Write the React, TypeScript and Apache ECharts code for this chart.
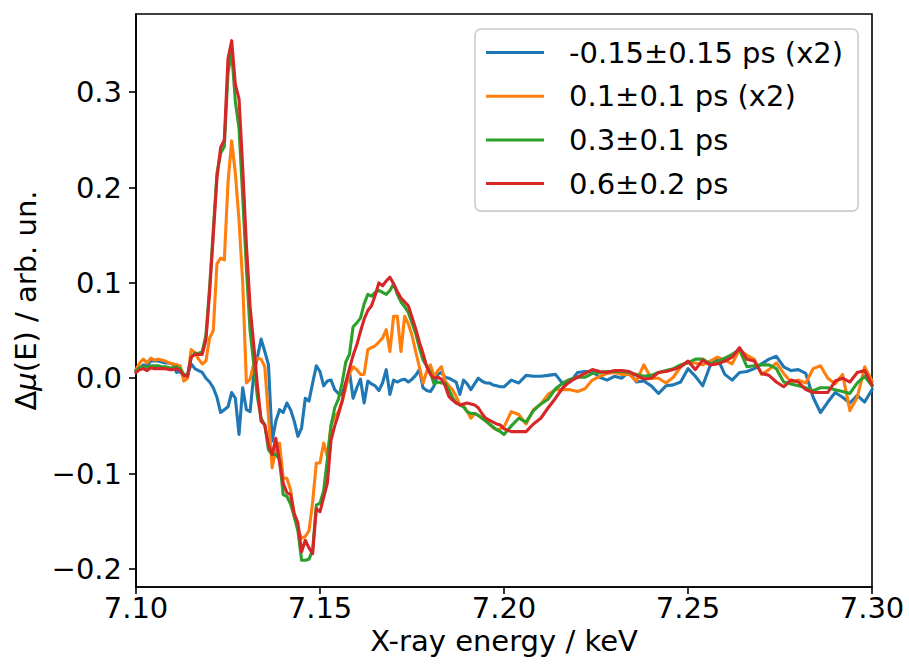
import React, { useEffect, useRef } from "react";
import * as echarts from "echarts";

const energy = [
  7.100, 7.101, 7.102, 7.103, 7.104, 7.105, 7.106, 7.107, 7.108, 7.109,
  7.110, 7.111, 7.112, 7.113, 7.114, 7.115, 7.116, 7.117, 7.118, 7.119,
  7.120, 7.121, 7.122, 7.123, 7.124, 7.125, 7.126, 7.127, 7.128, 7.129,
  7.130, 7.131, 7.132, 7.133, 7.134, 7.135, 7.136, 7.137, 7.138, 7.139,
  7.140, 7.141, 7.142, 7.143, 7.144, 7.145, 7.146, 7.147, 7.148, 7.149,
  7.150, 7.151, 7.152, 7.153, 7.154, 7.155, 7.156, 7.157, 7.158, 7.159,
  7.160, 7.161, 7.162, 7.163, 7.164, 7.165, 7.166, 7.167, 7.168, 7.169,
  7.170, 7.171, 7.172, 7.173, 7.174, 7.175, 7.176, 7.177, 7.178, 7.179,
  7.180, 7.181, 7.182, 7.183, 7.184, 7.185, 7.186, 7.187, 7.188, 7.189,
  7.190, 7.191, 7.192, 7.193, 7.194, 7.195, 7.196, 7.197, 7.198, 7.199,
  7.200,
  7.202, 7.204, 7.206, 7.208, 7.210, 7.212, 7.214, 7.216, 7.218, 7.220,
  7.222, 7.224, 7.226, 7.228, 7.230, 7.232, 7.234, 7.236, 7.238, 7.240,
  7.242, 7.244, 7.246, 7.248, 7.250, 7.252, 7.254, 7.256, 7.258, 7.260,
  7.262, 7.264, 7.266, 7.268, 7.270, 7.272, 7.274, 7.276, 7.278, 7.280,
  7.282, 7.284, 7.286, 7.288, 7.290, 7.292, 7.294, 7.296, 7.298, 7.300,
];

const seriesNames = ["-0.15±0.15 ps (x2)", "0.1±0.1 ps (x2)", "0.3±0.1 ps", "0.6±0.2 ps"];
const seriesColors = ["#1f77b4", "#ff7f0e", "#2ca02c", "#d62728"];

const blueVals = [
  0.008, 0.011, 0.014, 0.013, 0.018, 0.018, 0.018, 0.017, 0.016, 0.016,
  0.015, 0.006, 0.007, 0.002, 0.003, 0.015, 0.010, 0.008, 0.006, 0.000,
  -0.004, -0.010, -0.020, -0.036, -0.033, -0.030, -0.015, -0.021, -0.059, -0.010,
  -0.033, -0.035, 0.004, 0.022, 0.041, 0.028, 0.014, -0.066, -0.045, -0.033,
  -0.036, -0.026, -0.033, -0.045, -0.061, -0.052, -0.021, -0.024, -0.005, 0.013,
  0.007, -0.008, -0.003, -0.002, -0.012, -0.016, -0.017, -0.005, 0.007, -0.021,
  -0.010, -0.001, -0.026, -0.003, -0.006, -0.008, -0.013, -0.005, 0.009, -0.017,
  -0.002, -0.004, -0.002, -0.001, -0.004, -0.001, 0.003, 0.009, -0.010, -0.013,
  -0.014, -0.008, 0.004, 0.006, 0.001, 0.000, -0.002, -0.004, -0.017, -0.002,
  -0.006, -0.012, -0.006, 0.000, -0.003, -0.005, -0.005, -0.007, -0.008, -0.009,
  -0.009,
  -0.002, -0.005, 0.003, 0.002, 0.002, 0.003, 0.004, -0.006, -0.004, 0.006,
  0.007, 0.007, 0.001, -0.002, 0.002, 0.000, 0.007, -0.004, -0.003, -0.008,
  -0.016, -0.008, -0.007, -0.004, 0.010, 0.002, -0.008, 0.013, 0.021, 0.004,
  -0.002, 0.006, 0.007, 0.010, 0.015, 0.020, 0.023, 0.012, 0.008, 0.009,
  0.005, -0.020, -0.036, -0.025, -0.015, -0.020, -0.026, -0.018, -0.025, -0.012,
];

const orangeVals = [
  0.009, 0.016, 0.020, 0.016, 0.021, 0.019, 0.020, 0.019, 0.018, 0.016,
  0.015, 0.014, 0.013, -0.003, 0.000, 0.030, 0.027, 0.020, 0.015, 0.018,
  0.042, 0.050, 0.120, 0.126, 0.124, 0.205, 0.249, 0.215, 0.165, 0.100,
  -0.005, -0.001, 0.015, 0.021, 0.020, 0.012, -0.040, -0.094, -0.074, -0.068,
  -0.105, -0.105, -0.117, -0.145, -0.158, -0.168, -0.166, -0.160, -0.130, -0.089,
  -0.089, -0.068, -0.082, -0.049, -0.040, -0.035, -0.025, -0.010, 0.005, 0.012,
  0.009, 0.004, 0.004, 0.030, 0.032, 0.034, 0.038, 0.042, 0.051, 0.028,
  0.065, 0.065, 0.028, 0.065, 0.057, 0.045, 0.028, 0.012, -0.005, 0.007,
  0.014, 0.002, 0.008, 0.012, -0.003, -0.008, -0.012, -0.019, -0.028, -0.029,
  -0.035, -0.042, -0.037, -0.039, -0.041, -0.044, -0.048, -0.052, -0.054, -0.053,
  -0.051,
  -0.035, -0.038, -0.048, -0.033, -0.027, -0.017, -0.012, -0.012, -0.012, -0.014,
  -0.011, -0.002, 0.002, 0.005, 0.006, 0.004, 0.004, -0.003, 0.014, 0.000,
  0.000, -0.005, 0.001, 0.012, 0.017, 0.016, 0.014, 0.018, 0.022, 0.019,
  0.015, 0.030, 0.024, 0.020, 0.004, 0.009, 0.016, 0.005, -0.004, -0.002,
  -0.005, 0.010, 0.013, 0.000, -0.006, 0.004, -0.034, -0.020, 0.012, -0.003,
];

const greenVals = [
  0.008, 0.011, 0.012, 0.011, 0.013, 0.013, 0.013, 0.012, 0.012, 0.011,
  0.011, 0.012, 0.010, 0.004, 0.003, 0.022, 0.026, 0.026, 0.028, 0.045,
  0.095, 0.155, 0.215, 0.236, 0.243, 0.320, 0.343, 0.290, 0.262, 0.190,
  0.115, 0.050, 0.015, -0.020, -0.042, -0.049, -0.075, -0.080, -0.080, -0.085,
  -0.122, -0.124, -0.132, -0.145, -0.160, -0.191, -0.191, -0.190, -0.180, -0.133,
  -0.131, -0.118, -0.085, -0.050, -0.031, -0.022, -0.005, 0.017, 0.025, 0.054,
  0.058, 0.063, 0.078, 0.088, 0.086, 0.090, 0.092, 0.090, 0.088, 0.092,
  0.099, 0.088, 0.080, 0.075, 0.069, 0.058, 0.047, 0.032, 0.019, 0.013,
  0.006, -0.006, -0.004, -0.005, -0.005, -0.012, -0.020, -0.026, -0.028, -0.030,
  -0.035, -0.037, -0.037, -0.039, -0.042, -0.045, -0.048, -0.051, -0.054, -0.056,
  -0.059,
  -0.050, -0.042, -0.046, -0.034, -0.027, -0.022, -0.011, -0.005, -0.001, 0.001,
  0.001, 0.005, 0.006, 0.007, 0.007, 0.007, 0.006, 0.004, 0.002, 0.003,
  0.006, 0.008, 0.010, 0.014, 0.016, 0.020, 0.020, 0.015, 0.017, 0.021,
  0.025, 0.030, 0.012, 0.013, 0.014, 0.014, 0.010, -0.004, -0.006, -0.008,
  -0.010, -0.013, -0.010, -0.010, -0.012, -0.014, -0.016, -0.005, 0.002, -0.008,
];

const redVals = [
  0.006, 0.009, 0.010, 0.008, 0.011, 0.010, 0.010, 0.010, 0.010, 0.009,
  0.009, 0.010, 0.008, 0.003, 0.002, 0.022, 0.025, 0.025, 0.025, 0.040,
  0.090, 0.150, 0.210, 0.242, 0.250, 0.335, 0.354, 0.308, 0.293, 0.220,
  0.140, 0.075, 0.035, -0.008, -0.045, -0.049, -0.070, -0.080, -0.063, -0.088,
  -0.110, -0.120, -0.122, -0.142, -0.152, -0.182, -0.170, -0.178, -0.184, -0.137,
  -0.140, -0.125, -0.110, -0.065, -0.050, -0.038, -0.024, -0.005, 0.010, 0.024,
  0.035, 0.049, 0.062, 0.071, 0.076, 0.087, 0.100, 0.097, 0.102, 0.106,
  0.099, 0.091, 0.084, 0.080, 0.076, 0.064, 0.052, 0.038, 0.026, 0.012,
  0.004, 0.000, 0.001, -0.001, -0.008, -0.019, -0.023, -0.026, -0.028, -0.027,
  -0.026, -0.027, -0.028, -0.031, -0.037, -0.042, -0.044, -0.046, -0.048, -0.049,
  -0.053,
  -0.056, -0.056, -0.056, -0.048, -0.042, -0.031, -0.021, -0.010, -0.003, 0.001,
  0.005, 0.009, 0.007, 0.006, 0.008, 0.008, 0.007, 0.003, -0.001, 0.000,
  0.006, 0.007, 0.009, 0.012, 0.018, 0.009, 0.019, 0.014, 0.015, 0.018,
  0.022, 0.032, 0.020, 0.018, 0.005, 0.003, -0.004, -0.009, -0.002, -0.004,
  -0.012, -0.015, -0.015, -0.015, -0.003, 0.000, -0.004, 0.006, 0.008, -0.007,
];

const xTickValues = [7.1, 7.15, 7.2, 7.25, 7.3];
const yTickValues = [-0.2, -0.1, 0.0, 0.1, 0.2, 0.3];

const FONT = "DejaVu Sans";

export default function App() {
  const ref = useRef<HTMLDivElement>(null);
  useEffect(() => {
    if (!ref.current) return;
    const chart = echarts.init(ref.current, null, { renderer: "svg" });
    const allVals = [blueVals, orangeVals, greenVals, redVals];
    const series = allVals.map((vals, k) => ({
      type: "line",
      name: seriesNames[k],
      data: energy.map((e, i) => [e, vals[i]]),
      showSymbol: false,
      symbol: "none",
      lineStyle: { width: 3.1, color: seriesColors[k], join: "round", cap: "square" },
      itemStyle: { color: seriesColors[k] },
      z: 2 + k,
    }));
    chart.setOption({
      animation: false,
      backgroundColor: "#ffffff",
      textStyle: { fontFamily: FONT },
      grid: {
        left: 136,
        top: 14,
        width: 736,
        height: 573,
        show: true,
        borderColor: "#000",
        borderWidth: 1.6,
        backgroundColor: "transparent",
      },
      legend: {
        orient: "vertical",
        left: 475,
        top: 29,
        padding: [9, 15, 13, 11],
        itemGap: 14.7,
        itemWidth: 58,
        itemHeight: 3,
        icon: "rect",
        backgroundColor: "rgba(255,255,255,0.8)",
        borderColor: "#cccccc",
        borderWidth: 1.6,
        borderRadius: 6,
        textStyle: {
          fontSize: 29,
          lineHeight: 29,
          color: "#000",
          fontFamily: FONT,
          padding: [0, 0, 0, 20],
        },
        data: seriesNames,
      },
      xAxis: {
        type: "value",
        min: 7.1,
        max: 7.3,
        name: "X-ray energy / keV",
        nameLocation: "middle",
        nameGap: 39,
        nameTextStyle: { fontSize: 29, color: "#000", fontFamily: FONT },
        axisLine: { show: true, onZero: false, lineStyle: { color: "#000", width: 1.6 } },
        axisTick: {
          show: true,
          length: 7,
          lineStyle: { color: "#000", width: 1.6 },
          customValues: xTickValues,
        },
        axisLabel: {
          customValues: xTickValues,
          formatter: (v: number) => v.toFixed(2),
          fontSize: 29,
          color: "#000",
          fontFamily: FONT,
          margin: 6,
        },
        splitLine: { show: false },
      },
      yAxis: {
        type: "value",
        min: -0.219,
        max: 0.382,
        name: "Δ{i|μ}(E) / arb. un.",
        nameLocation: "middle",
        nameRotate: 90,
        nameGap: 90,
        nameTextStyle: {
          fontSize: 29,
          color: "#000",
          fontFamily: FONT,
          rich: { i: { fontStyle: "italic", fontSize: 29, color: "#000", fontFamily: FONT } },
        },
        axisLine: { show: true, onZero: false, lineStyle: { color: "#000", width: 1.6 } },
        axisTick: {
          show: true,
          length: 7,
          lineStyle: { color: "#000", width: 1.6 },
          customValues: yTickValues,
        },
        axisLabel: {
          customValues: yTickValues,
          formatter: (v: number) => {
            const s = Math.abs(v).toFixed(1);
            return v < -1e-9 ? "\u2212" + s : s;
          },
          fontSize: 29,
          color: "#000",
          fontFamily: FONT,
          margin: 14,
        },
        splitLine: { show: false },
      },
      series,
    });
    return () => chart.dispose();
  }, []);
  return (
    <div
      ref={ref}
      style={{ position: "absolute", left: 0, top: 0, width: 909, height: 669, background: "#fff" }}
    />
  );
}
